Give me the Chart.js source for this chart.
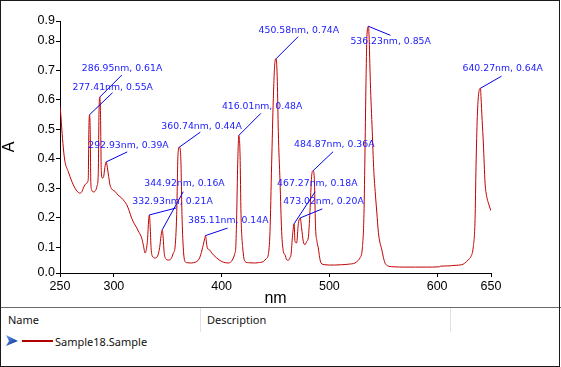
<!DOCTYPE html>
<html>
<head>
<meta charset="utf-8">
<script src="https://cdn.jsdelivr.net/npm/chart.js@4.4.1/dist/chart.umd.min.js"></script>
<style>
  html, body { margin: 0; padding: 0; background: #fff; }
  body { width: 561px; height: 367px; position: relative; overflow: hidden; font-family: "Noto Sans", sans-serif; }
  #chart { position: absolute; left: 0; top: 0; }
  #frame { position: absolute; left: 0; top: 0; width: 560px; height: 367px; box-sizing: border-box; border: 1px solid #1a1a1a; pointer-events: none; }
  .hline { position: absolute; left: 0; width: 561px; height: 1px; background: #6a6a6a; top: 307px; }
  .vsep { position: absolute; top: 308px; width: 1px; height: 24px; background: #e3e3e3; }
  .txt { position: absolute; font-size: 11px; color: #111; line-height: 14px; white-space: nowrap; }
  .swatch { position: absolute; left: 22px; top: 340px; width: 31px; height: 2px; background: #b00000; }
</style>
</head>
<body>
<canvas id="chart" width="561" height="307"></canvas>

<div class="hline"></div>
<div class="vsep" style="left:200px"></div>
<div class="vsep" style="left:450px"></div>
<div class="txt" style="left:8px; top:313px">Name</div>
<div class="txt" style="left:207px; top:313px">Description</div>
<svg style="position:absolute; left:5px; top:334px" width="15" height="14">
  <defs>
    <linearGradient id="g" x1="0" y1="0" x2="1" y2="1">
      <stop offset="0" stop-color="#5fa0ff"/>
      <stop offset="1" stop-color="#0a1f7a"/>
    </linearGradient>
  </defs>
  <polygon points="1,1 13,7 1,12 4,7" fill="url(#g)"/>
</svg>
<div class="swatch"></div>
<div class="txt" style="left:55px; top:335px">Sample18.Sample</div>
<div id="frame"></div>

<script>
// spectrum (nm / absorbance)
const wavelength = [
  250, 250.9, 251.6, 253.1, 254.6, 257.7, 260.9, 263.9, 266, 268.6, 270.5, 271.6, 274.8, 276.2, 276.8, 277.41, 278.0, 278.6, 279.4,
  281, 282.5, 284.5, 285.5, 286.2, 286.95, 287.6, 288.3, 289.3, 290.5, 291.6, 292.93, 294.0, 295.2, 296.4, 298, 301, 304, 307.3,
  310, 311.9, 314, 316.5, 319, 321.2, 323.5, 325.8, 327.5, 328.9, 330, 331.3, 332.2, 332.93, 333.7, 334.5, 335.5, 338.2, 340.5,
  342.5, 343.8, 344.92, 345.8, 346.6, 348, 350.5, 352.1, 354, 355.2, 356.7, 358.3, 359.5, 360.74, 362.0, 363.2, 364.4, 366.0,
  368, 370.6, 374, 376.9, 379, 380.6, 383.0, 384.3, 385.11, 386.0, 386.7, 388.6, 390.8, 393, 395.4, 400.1, 406.2, 409, 410.9,
  412.3, 413.1, 414.0, 414.9, 416.01, 417.1, 418.0, 419.6, 421.7, 425, 429.4, 434, 438.7, 441.5, 443.3, 444.9, 446.4, 448.0,
  449.5, 450.58, 451.7, 452.6, 454.2, 455.7, 457.3, 458.8, 460.4, 461.9, 463.5, 464.4, 465.8, 467.27, 468.1, 469.6, 471.2,
  473.02, 474.2, 475.8, 477.4, 478.9, 480.4, 482.0, 483.5, 484.87, 486.0, 487.2, 488.5, 489.7, 491, 492.2, 495.9, 500, 505,
  511.4, 518, 523.8, 526.5, 528.4, 530.6, 532.1, 533.1, 534.0, 534.9, 536.23, 536.8, 538.0, 539.8, 541.1, 542.5, 544, 545.5,
  547, 548.5, 550, 551.6, 553, 555, 560, 570, 580, 590, 602, 603, 610, 616.6, 622.8, 625.5, 627.4, 629.5, 631.4, 633.6, 635.2,
  636.1, 637.3, 638.6, 640.27, 640.7, 641.8, 642.9, 644.5, 646.0, 647.6, 649.8
];
const absorbance = [
  0.58, 0.543, 0.505, 0.437, 0.391, 0.357, 0.324, 0.301, 0.29, 0.284, 0.29, 0.301, 0.318, 0.33, 0.50, 0.55, 0.50, 0.32, 0.295,
  0.288, 0.29, 0.31, 0.35, 0.56, 0.61, 0.55, 0.36, 0.335, 0.34, 0.37, 0.39, 0.37, 0.34, 0.312, 0.298, 0.29, 0.277, 0.267,
  0.255, 0.245, 0.226, 0.199, 0.18, 0.166, 0.15, 0.132, 0.105, 0.081, 0.09, 0.13, 0.19, 0.21, 0.17, 0.1, 0.072, 0.064, 0.07,
  0.1, 0.14, 0.16, 0.13, 0.085, 0.062, 0.057, 0.058, 0.068, 0.081, 0.098, 0.211, 0.414, 0.44, 0.414, 0.211, 0.098, 0.052,
  0.048, 0.047, 0.048, 0.052, 0.06, 0.075, 0.109, 0.13, 0.14, 0.115, 0.098, 0.092, 0.081, 0.072, 0.064, 0.052, 0.047, 0.052, 0.064,
  0.08, 0.098, 0.211, 0.38, 0.48, 0.414, 0.211, 0.098, 0.052, 0.048, 0.047, 0.048, 0.052, 0.062, 0.075, 0.154, 0.38, 0.606,
  0.73, 0.74, 0.663, 0.493, 0.324, 0.154, 0.086, 0.075, 0.058, 0.056, 0.065, 0.075, 0.14, 0.18, 0.12, 0.115, 0.18,
  0.20, 0.166, 0.12, 0.109, 0.12, 0.132, 0.222, 0.34, 0.36, 0.335, 0.166, 0.12, 0.098, 0.065, 0.047, 0.041, 0.04, 0.04,
  0.041, 0.043, 0.047, 0.055, 0.064, 0.098, 0.211, 0.437, 0.663, 0.821, 0.85, 0.821, 0.663, 0.493, 0.37, 0.29, 0.22, 0.15,
  0.115, 0.095, 0.068, 0.047, 0.04, 0.036, 0.034, 0.033, 0.033, 0.033, 0.034, 0.036, 0.037, 0.039, 0.041, 0.046, 0.052, 0.06, 0.069, 0.103, 0.194,
  0.374, 0.544, 0.623, 0.64, 0.612, 0.53, 0.454, 0.318, 0.273, 0.25, 0.225
];

// labelled peaks
const peakNm = [286.95, 277.41, 292.93, 360.74, 416.01, 450.58, 536.23, 640.27, 484.87, 467.27, 473.02, 344.92, 332.93, 385.11];
const peakA  = [0.61, 0.55, 0.39, 0.44, 0.48, 0.74, 0.85, 0.64, 0.36, 0.18, 0.20, 0.16, 0.21, 0.14];

// axis ticks (the ends of each axis get a tick of their own)
const xTicks = [250, 300, 400, 500, 600, 650];
const xMin = 250, xMax = 650;
const yMin = 0.013, yMax = 0.868;
const yTicks = [yMin, 0.1, 0.2, 0.3, 0.4, 0.5, 0.6, 0.7, 0.8, yMax];

// label placement relative to the peak, px: text (tx, ty) and leader end (ex, ey)
const labelOffsets = [
  { tx: -18, ty: -28, ex: 22, ey: -22 },
  { tx: -17, ty: -27, ex: 23, ey: -22 },
  { tx: -18, ty: -16, ex: 21, ey: -10 },
  { tx: -18, ty: -21, ex: 21, ey: -15 },
  { tx: -17, ty: -29, ex: 22, ey: -22 },
  { tx: -17.5, ty: -28, ex: 22, ey: -22 },
  { tx: -18, ty: 15, ex: 22, ey: 9 },
  { tx: -18, ty: -20, ex: 21, ey: -12 },
  { tx: -19, ty: -26, ex: 20, ey: -19 },
  { tx: -17, ty: -40, ex: 21, ey: -32 },
  { tx: -17, ty: -16, ex: 22, ey: -9 },
  { tx: -18, ty: -46, ex: 21, ey: -38 },
  { tx: -17, ty: -13, ex: 27, ey: -7 },
  { tx: -17.5, ty: -15, ex: 22, ey: -7.5 }
];

const TICK_FONT = { family: '"Liberation Sans", Arial, sans-serif', size: 12.5 };
const TITLE_FONT = { family: '"Liberation Sans", Arial, sans-serif', size: 16, lineHeight: 1 };

// draws the "xxx.xxnm, 0.xxA" callouts with their leader lines
const peakLabels = {
  id: 'peakLabels',
  afterDatasetsDraw(chart) {
    const { ctx, scales: { x, y } } = chart;
    ctx.save();
    ctx.font = '9.3px "DejaVu Sans", sans-serif';
    ctx.fillStyle = '#1a1aff';
    ctx.strokeStyle = '#0000ee';
    ctx.lineWidth = 1;
    ctx.textBaseline = 'middle';
    peakNm.forEach((nm, i) => {
      const px = x.getPixelForValue(nm);
      const py = y.getPixelForValue(peakA[i]);
      const o = labelOffsets[i];
      ctx.beginPath();
      ctx.moveTo(px, py);
      ctx.lineTo(px + o.ex, py + o.ey);
      ctx.stroke();
      ctx.fillText(`${nm.toFixed(2)}nm, ${peakA[i].toFixed(2)}A`, px + o.tx, py + o.ty);
    });
    ctx.restore();
  }
};

new Chart(document.getElementById('chart'), {
  type: 'line',
  data: {
    datasets: [{
      data: wavelength.map((w, i) => ({ x: w, y: absorbance[i] })),
      borderColor: '#c00000',
      borderWidth: 1,
      pointRadius: 0,
      fill: false,
      cubicInterpolationMode: 'monotone'
    }]
  },
  options: {
    responsive: false,
    animation: false,
    devicePixelRatio: 1,
    layout: { padding: { top: 21, right: 70, bottom: 0, left: 0 } },
    plugins: { legend: { display: false }, tooltip: { enabled: false } },
    scales: {
      x: {
        type: 'linear',
        min: xMin,
        max: xMax,
        afterBuildTicks: (s) => { s.ticks = xTicks.map((v) => ({ value: v })); },
        afterFit: (s) => { s.height = 34; },
        grid: { display: true, drawOnChartArea: false, tickLength: 4, color: '#000' },
        border: { color: '#000' },
        ticks: { font: TICK_FONT, color: '#000', padding: 2, maxRotation: 0, autoSkip: false },
        title: { display: true, text: 'nm', font: TITLE_FONT, color: '#000', padding: { top: 0, bottom: 0 } }
      },
      y: {
        type: 'linear',
        min: yMin,
        max: yMax,
        afterBuildTicks: (s) => { s.ticks = yTicks.map((v) => ({ value: v })); },
        afterFit: (s) => { s.width = 60; },
        grid: { display: true, drawOnChartArea: false, tickLength: 4, color: '#000' },
        border: { color: '#000' },
        ticks: { font: TICK_FONT, color: '#000', padding: 1, autoSkip: false, callback: (v) => v.toFixed(1) },
        title: { display: true, text: 'A', font: TITLE_FONT, color: '#000', padding: { top: 2, bottom: 0 } }
      }
    }
  },
  plugins: [peakLabels]
});
</script>
</body>
</html>
